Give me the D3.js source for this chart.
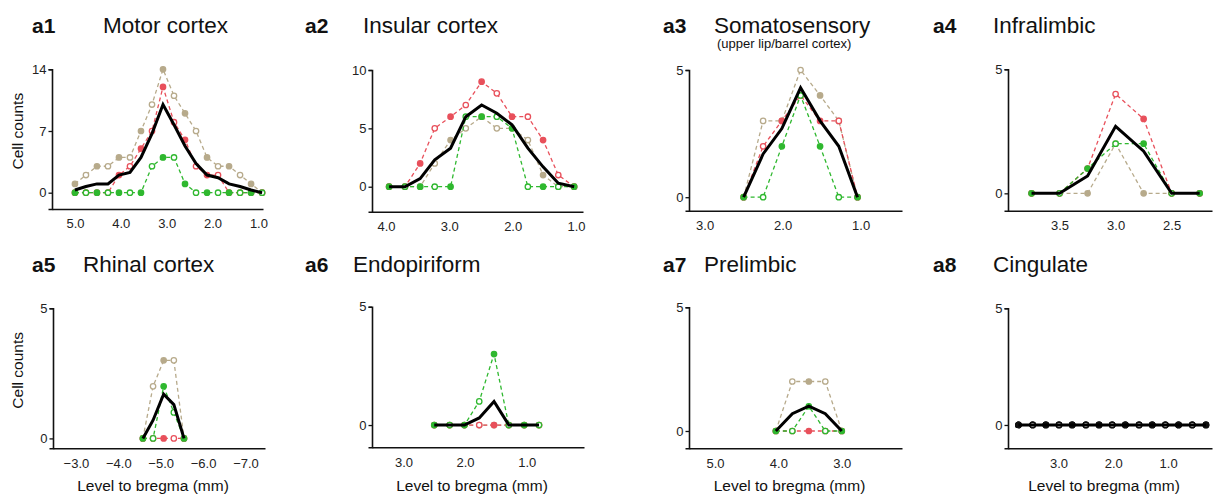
<!DOCTYPE html>
<html>
<head>
<meta charset="utf-8">
<script src="https://cdn.jsdelivr.net/npm/d3@7"></script>
<style>
  body { margin: 0; background: #fff; }
  svg { font-family: "Liberation Sans", Arial, sans-serif; }
</style>
</head>
<body>
<svg id="vis" width="1216" height="498"></svg>
<script>
// ---- data ----
var panelTags = ["a1", "a2", "a3", "a4", "a5", "a6", "a7", "a8"];
var panelNames = ["Motor cortex", "Insular cortex", "Somatosensory", "Infralimbic",
                  "Rhinal cortex", "Endopiriform", "Prelimbic", "Cingulate"];

var a1Levels = [5.00, 4.76, 4.52, 4.28, 4.04, 3.80, 3.56, 3.32, 3.08, 2.84, 2.60, 2.36, 2.12, 1.88, 1.64, 1.40, 1.16, 0.92];
var a1Tan    = [1, 2, 3, 3, 4, 4, 7, 10, 14, 11, 9, 7, 4, 3, 3, 2, 1, 0];
var a1Red    = [0, 0, 0, 0, 2, 3, 5, 7, 12, 8, 6, 3, 2, 2, 0, 0, 0, 0];
var a1Green  = [0, 0, 0, 0, 0, 0, 0, 3, 4, 4, 1, 0, 0, 0, 0, 0, 0, 0];
var a1Mean   = [0.3, 0.7, 1.0, 1.0, 2.0, 2.3, 4.0, 6.7, 10.0, 7.7, 5.3, 3.3, 2.0, 1.7, 1.0, 0.7, 0.3, 0];

var a2Levels = [3.95, 3.70, 3.46, 3.23, 2.98, 2.74, 2.49, 2.25, 2.01, 1.76, 1.52, 1.28, 1.03];
var a2Tan    = [0, 0, 0, 2, 4, 5, 6, 5, 5, 4, 1, 0, 0];
var a2Red    = [0, 0, 2, 5, 6, 7, 9, 8, 6, 6, 4, 1, 0];
var a2Green  = [0, 0, 0, 0, 0, 6, 6, 6, 5, 0, 0, 0, 0];
var a2Mean   = [0, 0, 0.7, 2.3, 3.3, 6.0, 7.0, 6.3, 5.3, 3.3, 1.7, 0.3, 0];

var a3Levels = [2.50, 2.25, 2.01, 1.77, 1.52, 1.28, 1.04];
var a3Tan    = [0, 3, 3, 5, 4, 3, 0];
var a3Red    = [0, 2, 3, 4, 3, 3, 0];
var a3Green  = [0, 0, 2, 4, 2, 0, 0];
var a3Mean   = [0, 1.7, 2.7, 4.3, 3.0, 2.0, 0];

var a4Levels = [3.75, 3.50, 3.25, 3.00, 2.75, 2.50, 2.25];
var a4Tan    = [0, 0, 0, 2, 0, 0, 0];
var a4Red    = [0, 0, 1, 4, 3, 0, 0];
var a4Green  = [0, 0, 1, 2, 2, 0, 0];
var a4Mean   = [0, 0, 0.7, 2.7, 1.7, 0, 0];

var a5Levels = [-4.58, -4.82, -5.07, -5.31, -5.55];
var a5Tan    = [0, 2, 3, 3, 0];
var a5Red    = [0, 0, 0, 0, 0];
var a5Green  = [0, 0, 2, 1, 0];
var a5Mean   = [0, 0.7, 1.7, 1.3, 0];

var a6Levels = [2.50, 2.25, 2.01, 1.77, 1.53, 1.29, 1.04, 0.80];
var a6Tan    = [0, 0, 0, 0, 0, 0, 0, 0];
var a6Red    = [0, 0, 0, 0, 0, 0, 0, 0];
var a6Green  = [0, 0, 0, 1, 3, 0, 0, 0];
var a6Mean   = [0, 0, 0, 0.3, 1.0, 0, 0, 0];

var a7Levels = [4.04, 3.78, 3.52, 3.26, 3.00];
var a7Tan    = [0, 2, 2, 2, 0];
var a7Red    = [0, 0, 0, 0, 0];
var a7Green  = [0, 0, 1, 0, 0];
var a7Mean   = [0, 0.7, 1.0, 0.7, 0];

var a8Levels = [3.73, 3.47, 3.23, 2.99, 2.75, 2.50, 2.26, 2.02, 1.78, 1.53, 1.29, 1.05, 0.81, 0.56, 0.31];
var a8Tan    = [0, 0, 0, 0, 0, 0, 0, 0, 0, 0, 0, 0, 0, 0, 0];
var a8Red    = [0, 0, 0, 0, 0, 0, 0, 0, 0, 0, 0, 0, 0, 0, 0];
var a8Green  = [0, 0, 0, 0, 0, 0, 0, 0, 0, 0, 0, 0, 0, 0, 0];
var a8Mean   = [0, 0, 0, 0, 0, 0, 0, 0, 0, 0, 0, 0, 0, 0, 0];

var xTickValues = [[5, 4, 3, 2, 1], [4, 3, 2, 1], [3, 2, 1], [3.5, 3, 2.5],
                   [-3, -4, -5, -6, -7], [3, 2, 1], [5, 4, 3], [3, 2, 1]];
var yTickValues = [[0, 7, 14], [0, 5, 10], [0, 5], [0, 5], [0, 5], [0, 5], [0, 5], [0, 5]];

var levels = [a1Levels, a2Levels, a3Levels, a4Levels, a5Levels, a6Levels, a7Levels, a8Levels];
var tanSeries = [a1Tan, a2Tan, a3Tan, a4Tan, a5Tan, a6Tan, a7Tan, a8Tan];
var redSeries = [a1Red, a2Red, a3Red, a4Red, a5Red, a6Red, a7Red, a8Red];
var greenSeries = [a1Green, a2Green, a3Green, a4Green, a5Green, a6Green, a7Green, a8Green];
var meanSeries = [a1Mean, a2Mean, a3Mean, a4Mean, a5Mean, a6Mean, a7Mean, a8Mean];

// ---- layout (pixel boxes for each panel) ----
var layout = [
  {left: 52,   right: 263,  top: 69.3,  bottom: 209,   xDomain: [5.50, 0.90],   yMin: -1.85, tagX: 32,  nameX: 103, titleY: 32.5},
  {left: 372,  right: 583,  top: 70,    bottom: 211.7, xDomain: [4.22, 0.89],   yMin: -2.14, tagX: 305, nameX: 363, titleY: 32.5},
  {left: 689,  right: 902,  top: 70,    bottom: 210.7, xDomain: [3.20, 0.47],   yMin: -0.53, tagX: 663, nameX: 714, titleY: 32.5},
  {left: 1008, right: 1212, top: 69.3,  bottom: 210.7, xDomain: [3.96, 2.14],   yMin: -0.70, tagX: 933, nameX: 993, titleY: 32.5},
  {left: 53,   right: 265,  top: 308.3, bottom: 448.3, xDomain: [-2.46, -7.46], yMin: -0.38, tagX: 32,  nameX: 83,  titleY: 272},
  {left: 372,  right: 584,  top: 306.7, bottom: 447.3, xDomain: [3.51, 0.07],   yMin: -0.94, tagX: 305, nameX: 353, titleY: 272},
  {left: 689,  right: 902,  top: 307.3, bottom: 448.3, xDomain: [5.41, 2.05],   yMin: -0.70, tagX: 663, nameX: 704, titleY: 272},
  {left: 1008, right: 1212, top: 308.3, bottom: 448.3, xDomain: [3.92, 0.20],   yMin: -1.00, tagX: 933, nameX: 993, titleY: 272}
];

var colors = {tan: "#b7aa8b", red: "#e8505b", green: "#2fb82f", mean: "#000"};

var svg = d3.select("#vis");

function fmtX(d) {
  return d < 0 ? "\u2212" + Math.abs(d).toFixed(1) : d.toFixed(1);
}

for (var i = 0; i < layout.length; i++) {
  drawPanel(i);
}

function drawPanel(i) {
  var L = layout[i];
  var yt = yTickValues[i];
  var x = d3.scaleLinear().domain(L.xDomain).range([L.left, L.right]);
  var y = d3.scaleLinear().domain([L.yMin, yt[yt.length - 1]]).range([L.bottom, L.top]);
  var g = svg.append("g");

  // titles
  g.append("text").attr("x", L.tagX).attr("y", L.titleY)
    .attr("font-size", 21).attr("font-weight", "bold").attr("fill", "#111").text(panelTags[i]);
  g.append("text").attr("x", L.nameX).attr("y", L.titleY)
    .attr("font-size", 22.5).attr("fill", "#111").text(panelNames[i]);
  if (i == 2) {
    g.append("text").attr("x", 717).attr("y", 47.5)
      .attr("font-size", 13).attr("fill", "#111").text("(upper lip/barrel cortex)");
  }

  // axes
  var xa = g.append("g").attr("transform", "translate(0," + L.bottom + ")")
    .call(d3.axisBottom(x).tickValues(xTickValues[i]).tickSize(0).tickPadding(10).tickFormat(fmtX));
  var ya = g.append("g").attr("transform", "translate(" + L.left + ",0)")
    .call(d3.axisLeft(y).tickValues(yt).tickSizeOuter(0).tickSize(3.5).tickPadding(2).tickFormat(d3.format("d")));
  [xa, ya].forEach(function(a) {
    a.select(".domain").attr("stroke", "#111").attr("stroke-width", 1.6);
    a.selectAll(".tick line").attr("stroke", "#111").attr("stroke-width", 1.3);
    a.selectAll(".tick text").attr("font-size", 13).attr("fill", "#222")
      .attr("font-family", "Liberation Sans, Arial, sans-serif");
  });

  if (i == 0 || i == 4) {
    var cy = (L.top + L.bottom) / 2 - 8;
    g.append("text").attr("transform", "translate(23," + cy + ") rotate(-90)")
      .attr("text-anchor", "middle").attr("font-size", 15.5).attr("fill", "#111").text("Cell counts");
  }
  if (i >= 4) {
    g.append("text").attr("x", (L.left + L.right) / 2 - 6).attr("y", 491)
      .attr("text-anchor", "middle").attr("font-size", 15.5).attr("fill", "#111").text("Level to bregma (mm)");
  }

  var mono = (i == 7);
  var line = d3.line().x(function(d) { return x(d.lv); }).y(function(d) { return y(d.v); });

  function toPts(vals) {
    return vals.map(function(v, k) { return {lv: levels[i][k], v: v, k: k}; });
  }

  [[tanSeries[i], colors.tan], [redSeries[i], colors.red], [greenSeries[i], colors.green]].forEach(function(s) {
    var pts = toPts(s[0]);
    var c = mono ? "#111" : s[1];
    g.append("path").datum(pts).attr("d", line).attr("fill", "none")
      .attr("stroke", c).attr("stroke-width", 1.3).attr("stroke-dasharray", "4,3");
    g.selectAll(null).data(pts).enter().append("circle")
      .attr("cx", function(d) { return x(d.lv); })
      .attr("cy", function(d) { return y(d.v); })
      .attr("r", 2.7)
      .attr("fill", function(d) { return d.k % 2 == 0 ? c : "#fff"; })
      .attr("stroke", c).attr("stroke-width", 1.3);
  });

  g.append("path").datum(toPts(meanSeries[i])).attr("d", line).attr("fill", "none")
    .attr("stroke", colors.mean).attr("stroke-width", 3).attr("stroke-linejoin", "miter");
}
</script>
</body>
</html>
